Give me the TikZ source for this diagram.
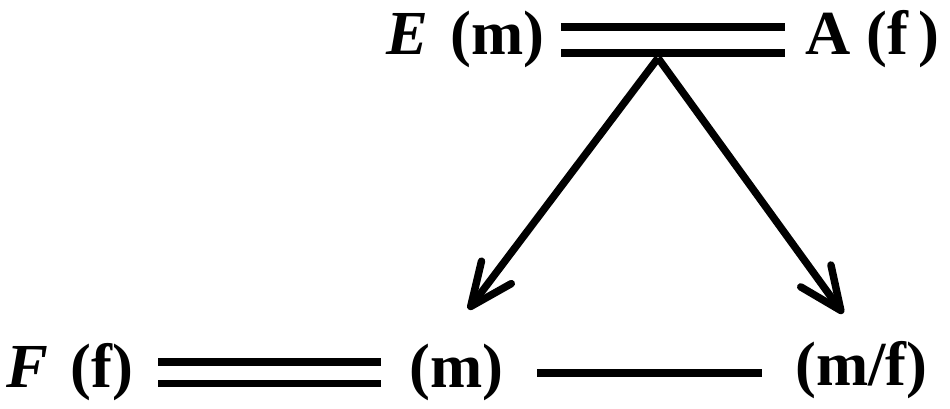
\documentclass[tikz,border=0pt]{standalone}
\usepackage{fontspec}
\setmainfont{Liberation Serif}
\usetikzlibrary{arrows.meta,calc}
\tikzset{
  lbl/.style={inner sep=0pt, anchor=base west, font=\fontsize{47}{56}\selectfont\bfseries},
  dbl/.style={draw=black, line width=5.7pt, double=white, double distance=#1},
  dbl/.default=12pt,
  sgl/.style={draw=black, line width=5.8pt},
  arr/.style={-{Straight Barb[length=32pt,width=28pt,round]}, line width=5.6pt, draw=black},
}

\begin{document}
\begin{tikzpicture}[x=0.75pt,y=-0.75pt]
  \useasboundingbox (0,0) rectangle (950,409);
  % ---- labels ----
  \node[lbl] (em) at (386,55)  {\textit{E}\hspace{0.36em}(m)};
  \node[lbl] (af) at (805,55)  {A (f\,)};
  \node[lbl] (ff) at (6,388)   {\textit{F}\hspace{0.36em}(f)};
  \node[lbl] (mm) at (409,388) {(m)};
  \node[lbl] (mf) at (795,386) {(m/f)};
  \coordinate (apex) at (658,58);
  % ---- bonds ----
  \draw[dbl=13.5pt, shorten <=12pt, shorten >=15pt] (em.east) -- (em.east -| af.west);
  \draw[dbl=10.5pt, shorten <=18.5pt, shorten >=21pt] (ff.east) -- (ff.east -| mm.west);
  \draw[sgl, shorten <=25.5pt, shorten >=25pt] (mm.east) -- (mm.east -| mf.west);
  % ---- descent arrows ----
  \draw[arr, shorten >=32.7pt] (apex) -- ([xshift=-10.5pt]mm.north);
  \draw[arr, shorten >=26pt] (apex) -- ([xshift=1.5pt]mf.north);
\end{tikzpicture}
\end{document}
